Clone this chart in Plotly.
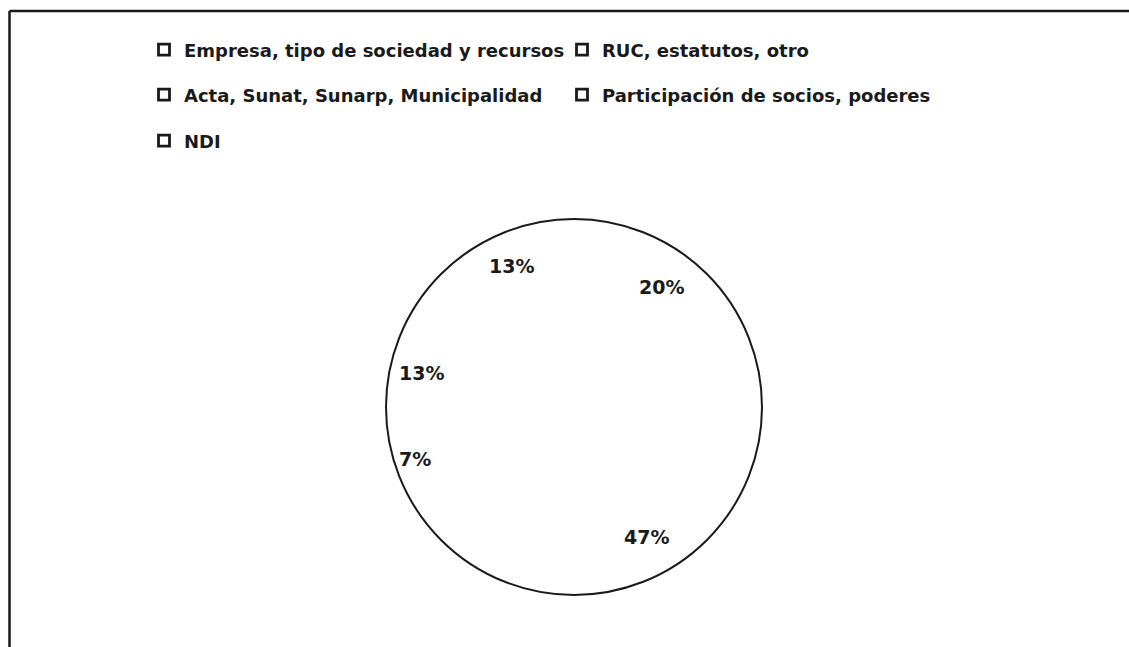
import math
import plotly.graph_objects as go

# ---- data ----
categories = [
    "Empresa, tipo de sociedad y recursos",
    "RUC, estatutos, otro",
    "Acta, Sunat, Sunarp, Municipalidad",
    "Participación de socios, poderes",
    "NDI",
]
counts = [3, 7, 1, 2, 2]

# ---- layout / style constants ----
W, H = 1129, 647
CX, CY, R = 574, 407, 188          # pie centre and radius (px, from top-left)
FONT = "DejaVu Sans"
INK = "#1a1a1a"
legend_pos = [(164, 50), (582, 50), (164, 95), (582, 95), (164, 141)]  # symbol centres
label_r = [0.79, 0.79, 0.89, 0.83, 0.82]      # label distance as fraction of radius
label_nudge = [0, -5, 0, -5.5, 0]             # small angular nudges (deg), Excel best-fit

domain = dict(x=[(CX - R) / W, (CX + R) / W], y=[(H - CY - R) / H, (H - CY + R) / H])

fig = go.Figure()

# slices (white, no borders)
fig.add_trace(go.Pie(
    labels=categories, values=counts, sort=False, direction="clockwise", rotation=0,
    marker=dict(colors=["white"] * len(counts), line=dict(width=0)),
    textinfo="none", showlegend=False, domain=domain, hoverinfo="label+percent",
))
# outer circle outline
fig.add_trace(go.Pie(
    labels=["Total"], values=[sum(counts)], sort=False,
    marker=dict(colors=["rgba(0,0,0,0)"], line=dict(color=INK, width=2)),
    textinfo="none", showlegend=False, domain=domain, hoverinfo="skip",
))

# legend entries
legends = {}
for i, (name, (px, py)) in enumerate(zip(categories, legend_pos)):
    lg = "legend" if i == 0 else f"legend{i + 1}"
    fig.add_trace(go.Scatter(
        x=[None], y=[None], mode="markers", name=name, legend=lg, showlegend=True,
        marker=dict(symbol="square-open", size=11, color=INK, line=dict(width=2.8, color=INK)),
        hoverinfo="skip",
    ))
    legends[lg] = dict(
        x=(px - 20) / W, xanchor="left", y=1 - py / H, yanchor="middle",
        bgcolor="rgba(0,0,0,0)", borderwidth=0,
        font=dict(family=FONT, size=18, color=INK, weight="bold"),
    )

# percentage labels
total = sum(counts)
cum = 0
for v, f, nd in zip(counts, label_r, label_nudge):
    mid = (cum + v / 2) / total * 360 + nd
    cum += v
    x = CX + R * f * math.sin(math.radians(mid))
    y = CY - R * f * math.cos(math.radians(mid))
    fig.add_annotation(
        x=x / W, y=1 - y / H, xref="paper", yref="paper", showarrow=False,
        xanchor="center", yanchor="middle",
        text=f"{round(v / total * 100)}%",
        font=dict(family=FONT, size=19, color=INK, weight="bold"),
    )

# frame (top and left edges of the scanned chart border)
fig.add_shape(type="line", xref="paper", yref="paper", x0=9.5 / W, x1=1.02,
              y0=1 - 11 / H, y1=1 - 11 / H, line=dict(color=INK, width=2.5))
fig.add_shape(type="line", xref="paper", yref="paper", x0=9.5 / W, x1=9.5 / W,
              y0=-0.02, y1=1 - 11 / H, line=dict(color=INK, width=2.5))

fig.update_layout(
    width=W, height=H, margin=dict(l=0, r=0, t=0, b=0),
    paper_bgcolor="white", plot_bgcolor="white",
    xaxis=dict(visible=False), yaxis=dict(visible=False),
    **legends,
)

fig.write_html("out.html")
